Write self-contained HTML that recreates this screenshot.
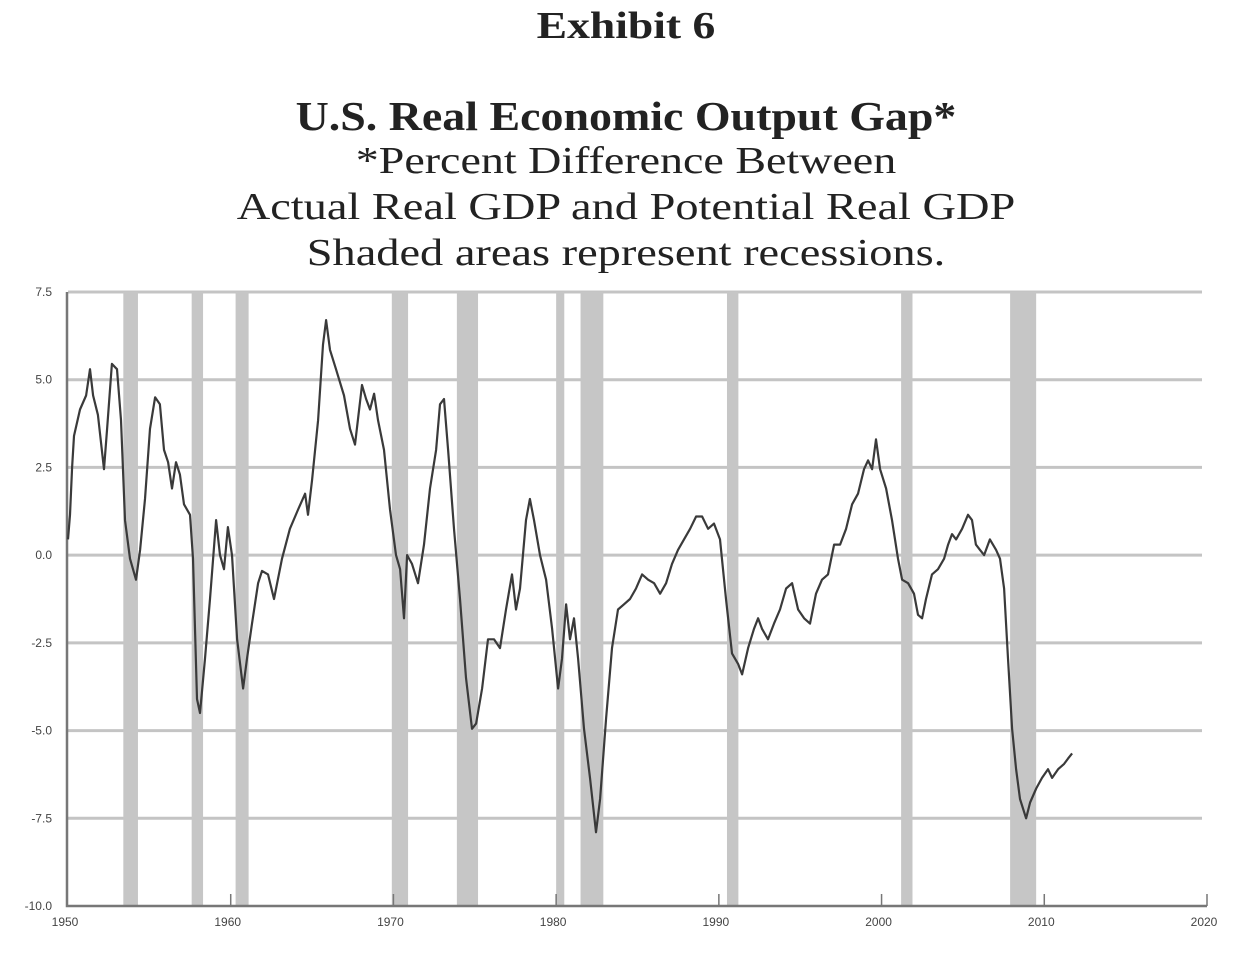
<!DOCTYPE html>
<html><head><meta charset="utf-8">
<style>
html,body{margin:0;padding:0;background:#fff;}
body{width:1236px;height:974px;position:relative;overflow:hidden;font-family:"Liberation Serif",serif;color:#222;}
.t{position:absolute;left:0;width:1252px;text-align:center;white-space:nowrap;transform-origin:626px 0;}
</style></head><body>
<div class="t" style="top:4px;font-size:38px;font-weight:bold;transform:scaleX(1.2);">Exhibit 6</div>
<div class="t" style="top:92px;font-size:41px;font-weight:bold;transform:scaleX(1.12);">U.S. Real Economic Output Gap*</div>
<div class="t" style="top:139px;font-size:38px;transform:scaleX(1.21);">*Percent Difference Between</div>
<div class="t" style="top:185px;font-size:38px;transform:scaleX(1.22);">Actual Real GDP and Potential Real GDP</div>
<div class="t" style="top:231px;font-size:38px;transform:scaleX(1.22);">Shaded areas represent recessions.</div>
<svg id="chart" width="1236" height="974" style="position:absolute;left:0;top:0;"></svg>
<script>
const recessions=[[1953.4,1954.3],[1957.6,1958.3],[1960.3,1961.1],[1969.9,1970.9],[1973.9,1975.2],[1980.0,1980.5],[1981.5,1982.9],[1990.5,1991.2],[2001.2,2001.9],[2007.9,2009.5]];
const years=[1950.00,1950.12,1950.25,1950.37,1950.74,1951.11,1951.35,1951.54,1951.84,1952.21,1952.40,1952.70,1953.01,1953.26,1953.50,1953.81,1954.18,1954.43,1954.73,1955.04,1955.35,1955.65,1955.90,1956.15,1956.39,1956.64,1956.88,1957.13,1957.50,1957.68,1957.93,1958.11,1958.42,1958.73,1959.10,1959.34,1959.59,1959.83,1960.08,1960.39,1960.76,1961.00,1961.31,1961.68,1961.92,1962.29,1962.66,1963.15,1963.64,1964.14,1964.57,1964.75,1965.00,1965.37,1965.67,1965.86,1966.10,1966.47,1966.96,1967.33,1967.64,1968.07,1968.32,1968.56,1968.81,1969.05,1969.42,1969.79,1970.16,1970.41,1970.65,1970.84,1971.14,1971.51,1971.88,1972.25,1972.62,1972.86,1973.11,1973.36,1973.72,1974.09,1974.46,1974.83,1975.08,1975.45,1975.81,1976.18,1976.55,1976.92,1977.29,1977.53,1977.78,1978.15,1978.39,1978.64,1979.01,1979.38,1979.75,1980.12,1980.36,1980.61,1980.85,1981.10,1981.35,1981.71,1982.08,1982.45,1982.70,1983.07,1983.43,1983.80,1984.17,1984.54,1984.91,1985.28,1985.65,1986.02,1986.39,1986.76,1987.12,1987.49,1987.86,1988.23,1988.60,1988.97,1989.34,1989.70,1990.07,1990.44,1990.81,1991.18,1991.43,1991.80,1992.16,1992.41,1992.65,1993.02,1993.39,1993.76,1994.13,1994.50,1994.87,1995.24,1995.60,1995.97,1996.34,1996.71,1997.08,1997.45,1997.82,1998.19,1998.55,1998.92,1999.17,1999.42,1999.66,1999.91,2000.28,2000.64,2001.01,2001.26,2001.63,2001.99,2002.24,2002.49,2002.73,2003.10,2003.47,2003.84,2004.09,2004.33,2004.58,2004.95,2005.31,2005.56,2005.80,2006.05,2006.30,2006.66,2007.04,2007.28,2007.53,2007.77,2008.02,2008.27,2008.51,2008.88,2009.13,2009.50,2009.86,2010.23,2010.48,2010.85,2011.22,2011.46,2011.71];
const gap=[0.45,1.15,2.5,3.4,4.15,4.55,5.3,4.55,4.0,2.45,3.6,5.45,5.3,3.85,1.0,-0.1,-0.7,0.15,1.6,3.6,4.5,4.3,3.0,2.65,1.9,2.65,2.3,1.45,1.15,-0.1,-4.1,-4.5,-2.95,-1.25,1.0,0.0,-0.4,0.8,0.0,-2.4,-3.8,-2.95,-1.95,-0.8,-0.45,-0.55,-1.25,-0.1,0.75,1.3,1.75,1.15,2.15,3.85,6.0,6.7,5.85,5.3,4.55,3.6,3.15,4.85,4.45,4.15,4.6,3.85,3.0,1.3,0.0,-0.4,-1.8,0.0,-0.25,-0.8,0.3,1.9,3.0,4.3,4.45,3.0,0.75,-1.25,-3.5,-4.95,-4.8,-3.8,-2.4,-2.4,-2.65,-1.55,-0.55,-1.55,-0.95,1.0,1.6,1.0,0.0,-0.7,-2.1,-3.8,-2.95,-1.4,-2.4,-1.8,-2.95,-4.95,-6.35,-7.9,-6.95,-4.65,-2.65,-1.55,-1.4,-1.25,-0.95,-0.55,-0.7,-0.8,-1.1,-0.8,-0.25,0.15,0.45,0.75,1.1,1.1,0.75,0.9,0.45,-1.25,-2.8,-3.1,-3.4,-2.65,-2.1,-1.8,-2.1,-2.4,-1.95,-1.55,-0.95,-0.8,-1.55,-1.8,-1.95,-1.1,-0.7,-0.55,0.3,0.3,0.75,1.45,1.75,2.45,2.7,2.45,3.3,2.45,1.9,1.0,-0.1,-0.7,-0.8,-1.1,-1.7,-1.8,-1.25,-0.55,-0.4,-0.1,0.3,0.6,0.45,0.75,1.15,1.0,0.3,0.15,0.0,0.45,0.15,-0.1,-0.95,-2.95,-4.95,-6.1,-6.95,-7.5,-7.05,-6.65,-6.35,-6.1,-6.35,-6.1,-5.95,-5.8,-5.65];
const yTicks=[7.5,5.0,2.5,0.0,-2.5,-5.0,-7.5,-10.0];
const xTicks=[1950,1960,1970,1980,1990,2000,2010,2020];

const NS='http://www.w3.org/2000/svg';
const svg=document.getElementById('chart');
const X0=68,X1=1207,Y0=906,Y1=292;
const x=v=>X0+(v-1950)/70*(X1-X0);
const y=v=>Y0-(v+10)/17.5*(Y0-Y1);
function mk(tag,attrs,parent){const e=document.createElementNS(NS,tag);for(const k in attrs)e.setAttribute(k,attrs[k]);(parent||svg).appendChild(e);return e;}

const gGrid=mk('g',{});


yTicks.forEach(t=>{
  if(t>-10){const l=mk('line',{x1:X0,x2:1202,y1:y(t),y2:y(t),stroke:'#c4c4c4','stroke-width':3},gGrid);
  
  }
  const tx=mk('text',{x:52,y:y(t)+4,'text-anchor':'end','font-size':12,fill:'#444','font-family':'Liberation Sans, sans-serif'});
  tx.textContent=t.toFixed(1);
  
  
});
const gRec=mk('g',{});


recessions.forEach(r=>{
  const b=mk('rect',{x:x(r[0]),y:Y1,width:x(r[1])-x(r[0]),height:Y0-Y1,fill:'#c6c6c6'},gRec);
  
  
});
const ax=mk('path',{d:`M${X0-1},${Y1} V${Y0} H${X1}`,fill:'none',stroke:'#777','stroke-width':2.5});


xTicks.forEach(t=>{
  if(t>1950){const tk=mk('line',{x1:x(t),x2:x(t),y1:Y0,y2:Y0-12,stroke:'#777','stroke-width':1.5});
  
  }
  const tx=mk('text',{x:x(t)-3,y:Y0+20,'text-anchor':'middle','font-size':12,fill:'#444','font-family':'Liberation Sans, sans-serif'});
  tx.textContent=t;
  
  
});
const pts=years.map((yr,i)=>x(yr).toFixed(1)+','+y(gap[i]).toFixed(1)).join(' ');
const line=mk('polyline',{points:pts,fill:'none',stroke:'#3a3a3a','stroke-width':2.2,'stroke-linejoin':'round'});


</script>
</body></html>
